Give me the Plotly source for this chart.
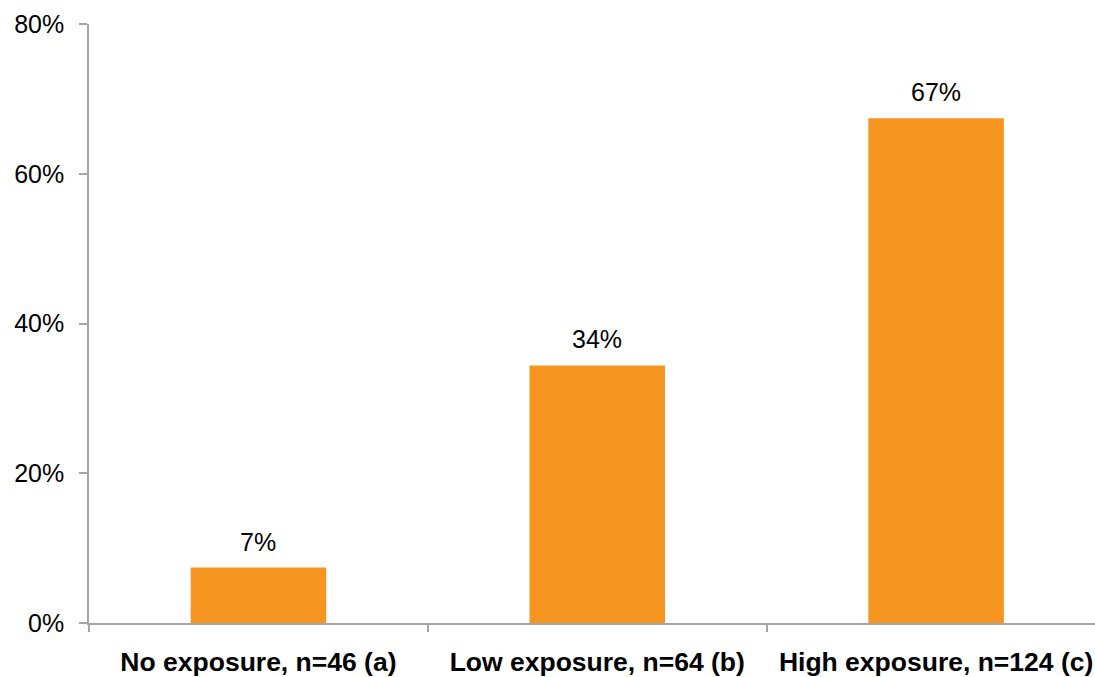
import plotly.graph_objects as go

categories = ["No exposure, n=46 (a)", "Low exposure, n=64 (b)", "High exposure, n=124 (c)"]
shares = [0.074, 0.344, 0.674]
y_ticks = [0, 0.2, 0.4, 0.6, 0.8]
y_tick_labels = ["0%", "20%", "40%", "60%", "80%"]

BAR_COLOR = "#F6951F"
AXIS_COLOR = "#A6A6A6"
FONT = "Liberation Sans, Arial, sans-serif"

fig = go.Figure()
fig.add_trace(go.Bar(
    x=categories,
    y=shares,
    width=0.4,
    marker=dict(color=BAR_COLOR, line=dict(width=0)),
    hoverinfo="skip",
))

# value labels above each bar, derived from the bar values
for cat, val in zip(categories, shares):
    fig.add_annotation(
        x=cat, y=val, text=f"{val:.0%}",
        showarrow=False, yanchor="bottom", yshift=10,
        font=dict(family=FONT, size=25, color="#000000"),
    )

fig.update_layout(
    width=1095, height=677,
    margin=dict(l=89, r=0, t=23.5, b=53.5),
    paper_bgcolor="white", plot_bgcolor="white",
    showlegend=False,
    font=dict(family=FONT, color="#000000"),
)
fig.update_xaxes(
    type="category",
    range=[-0.5, 2.469],
    showline=True, linecolor=AXIS_COLOR, linewidth=1.5,
    ticks="outside", tickson="boundaries", ticklen=7, tickcolor=AXIS_COLOR, tickwidth=1.5,
    tickfont=dict(family=FONT, size=26.5, color="#000000", weight="bold"),
    ticklabelstandoff=14,
    showgrid=False, zeroline=False,
)
fig.update_yaxes(
    range=[0, 0.8],
    tickvals=y_ticks, ticktext=y_tick_labels,
    showline=True, linecolor=AXIS_COLOR, linewidth=1.5,
    ticks="outside", ticklen=8, tickcolor=AXIS_COLOR, tickwidth=1.5,
    tickfont=dict(family=FONT, size=25, color="#000000"),
    ticklabelstandoff=10,
    showgrid=False, zeroline=False,
)

fig.write_html("out.html")
